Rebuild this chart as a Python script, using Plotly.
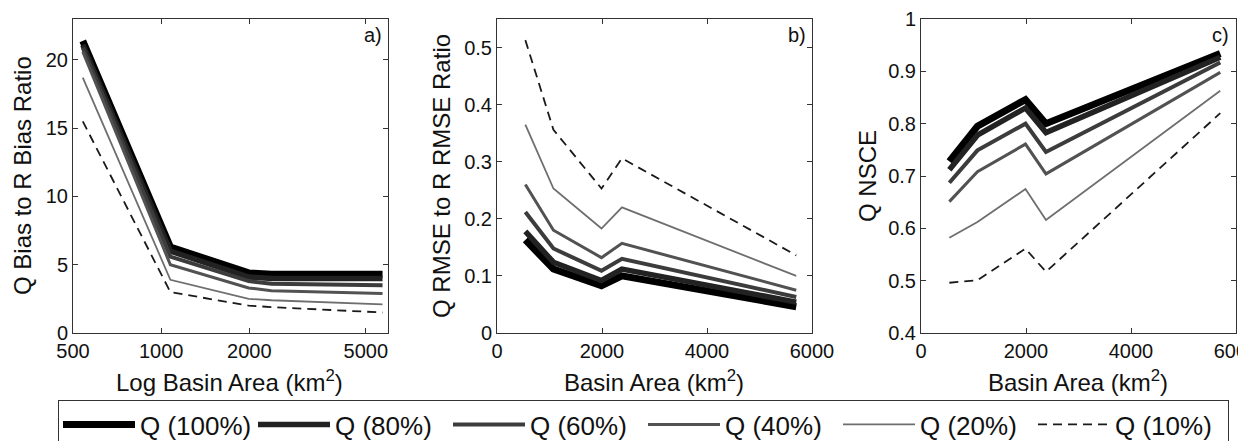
import math
import plotly.graph_objects as go

# ---- data ----
basin_area = [540, 1075, 1990, 2380, 5700]
series_names = ["Q (100%)", "Q (80%)", "Q (60%)", "Q (40%)", "Q (20%)", "Q (10%)"]

bias_ratio = {
    "Q (100%)": [21.4, 6.3, 4.4, 4.3, 4.3],
    "Q (80%)": [21.1, 6.0, 4.1, 4.0, 4.0],
    "Q (60%)": [20.9, 5.6, 3.8, 3.6, 3.5],
    "Q (40%)": [20.6, 5.0, 3.3, 3.1, 2.9],
    "Q (20%)": [18.7, 3.9, 2.5, 2.4, 2.1],
    "Q (10%)": [15.5, 3.0, 2.0, 1.9, 1.5],
}
rmse_ratio = {
    "Q (100%)": [0.163, 0.112, 0.083, 0.100, 0.046],
    "Q (80%)": [0.178, 0.124, 0.092, 0.112, 0.054],
    "Q (60%)": [0.212, 0.148, 0.109, 0.130, 0.063],
    "Q (40%)": [0.260, 0.180, 0.132, 0.157, 0.075],
    "Q (20%)": [0.365, 0.253, 0.183, 0.220, 0.100],
    "Q (10%)": [0.513, 0.356, 0.253, 0.306, 0.136],
}
nsce = {
    "Q (100%)": [0.728, 0.795, 0.846, 0.800, 0.934],
    "Q (80%)": [0.712, 0.778, 0.830, 0.783, 0.927],
    "Q (60%)": [0.687, 0.749, 0.800, 0.746, 0.917],
    "Q (40%)": [0.651, 0.708, 0.761, 0.704, 0.898],
    "Q (20%)": [0.582, 0.612, 0.675, 0.616, 0.863],
    "Q (10%)": [0.496, 0.501, 0.561, 0.517, 0.820],
}

log_ticks = [500, 1000, 2000, 5000]
lin_ticks = [0, 2000, 4000, 6000]

# ---- styles ----
colors = ["#000000", "#222222", "#3c3c3c", "#525252", "#6e6e6e", "#1a1a1a"]
widths = [7, 5.5, 4, 3, 1.8, 1.8]
dashes = ["solid", "solid", "solid", "solid", "solid", "9px,6px"]

FONT = "Liberation Sans, Arial, Helvetica, sans-serif"
W, H = 1238, 441


def px_x(p):
    return p / W


def px_y(p):
    return (H - p) / H


fig = go.Figure()

panels = [("x", "y", bias_ratio), ("x2", "y2", rmse_ratio), ("x3", "y3", nsce)]
for pi, (xa, ya, data) in enumerate(panels):
    for i, name in enumerate(series_names):
        fig.add_trace(go.Scatter(
            x=basin_area, y=data[name], mode="lines", name=name,
            xaxis=xa, yaxis=ya, showlegend=(pi == 0), legendgroup=name,
            line=dict(color=colors[i], width=widths[i], dash=dashes[i]),
        ))

axis_common = dict(
    showline=True, linecolor="#333", linewidth=1, mirror="ticks",
    ticks="inside", ticklen=5, tickcolor="#333", showgrid=False, zeroline=False,
    automargin=False, ticklabeloverflow="allow",
    tickfont=dict(family=FONT, size=20, color="#111"),
)

ytop, ybot = 19, 333
ydom = [px_y(ybot), px_y(ytop)]
xdoms = [[px_x(73), px_x(388)], [px_x(497), px_x(812)], [px_x(921), px_x(1236)]]

fig.update_layout(
    width=W, height=H,
    margin=dict(l=0, r=0, t=0, b=0, autoexpand=False),
    paper_bgcolor="white", plot_bgcolor="white",
    font=dict(family=FONT, color="#111"),
    xaxis=dict(domain=xdoms[0], type="log", range=[math.log10(500), math.log10(5950)],
               tickvals=log_ticks, ticktext=[str(t) for t in log_ticks], anchor="y", **axis_common),
    yaxis=dict(domain=ydom, range=[0, 23], tickvals=[0, 5, 10, 15, 20], anchor="x", **axis_common),
    xaxis2=dict(domain=xdoms[1], range=[0, 6000], tickvals=lin_ticks, anchor="y2", **axis_common),
    yaxis2=dict(domain=ydom, range=[0, 0.55], tickvals=[0, 0.1, 0.2, 0.3, 0.4, 0.5],
                ticktext=["0", "0.1", "0.2", "0.3", "0.4", "0.5"], anchor="x2", **axis_common),
    xaxis3=dict(domain=xdoms[2], range=[0, 6000], tickvals=lin_ticks, anchor="y3", **axis_common),
    yaxis3=dict(domain=ydom, range=[0.4, 1.0], tickvals=[0.4, 0.5, 0.6, 0.7, 0.8, 0.9, 1.0],
                ticktext=["0.4", "0.5", "0.6", "0.7", "0.8", "0.9", "1"], anchor="x3", **axis_common),
    legend=dict(
        orientation="h", xref="container", yref="container",
        x=px_x(58), xanchor="left", y=px_y(400), yanchor="top",
        bordercolor="#333", borderwidth=1, bgcolor="white",
        font=dict(family=FONT, size=26, color="#111"),
        itemwidth=72, entrywidth=108, tracegroupgap=0,
    ),
)

annos = []
# x titles
for cx, txt in [(230, "Log Basin Area (km<sup>2</sup>)"), (654, "Basin Area (km<sup>2</sup>)"),
                (1078, "Basin Area (km<sup>2</sup>)")]:
    annos.append(dict(x=px_x(cx), y=px_y(381), xref="paper", yref="paper", text=txt,
                      showarrow=False, xanchor="center", yanchor="middle",
                      font=dict(family=FONT, size=24, color="#111")))
# y titles
for cx, txt in [(23, "Q Bias to R Bias Ratio"), (442, "Q RMSE to R RMSE Ratio"), (868, "Q NSCE")]:
    annos.append(dict(x=px_x(cx), y=px_y(176), xref="paper", yref="paper", text=txt,
                      showarrow=False, xanchor="center", yanchor="middle", textangle=-90,
                      font=dict(family=FONT, size=24, color="#111")))
# panel labels
for rx, txt in [(384, "a)"), (808, "b)"), (1231, "c)")]:
    annos.append(dict(x=px_x(rx), y=px_y(35), xref="paper", yref="paper", text=txt,
                      showarrow=False, xanchor="right", yanchor="middle",
                      font=dict(family=FONT, size=20, color="#111")))
fig.update_layout(annotations=annos)

fig.write_html("out.html")
